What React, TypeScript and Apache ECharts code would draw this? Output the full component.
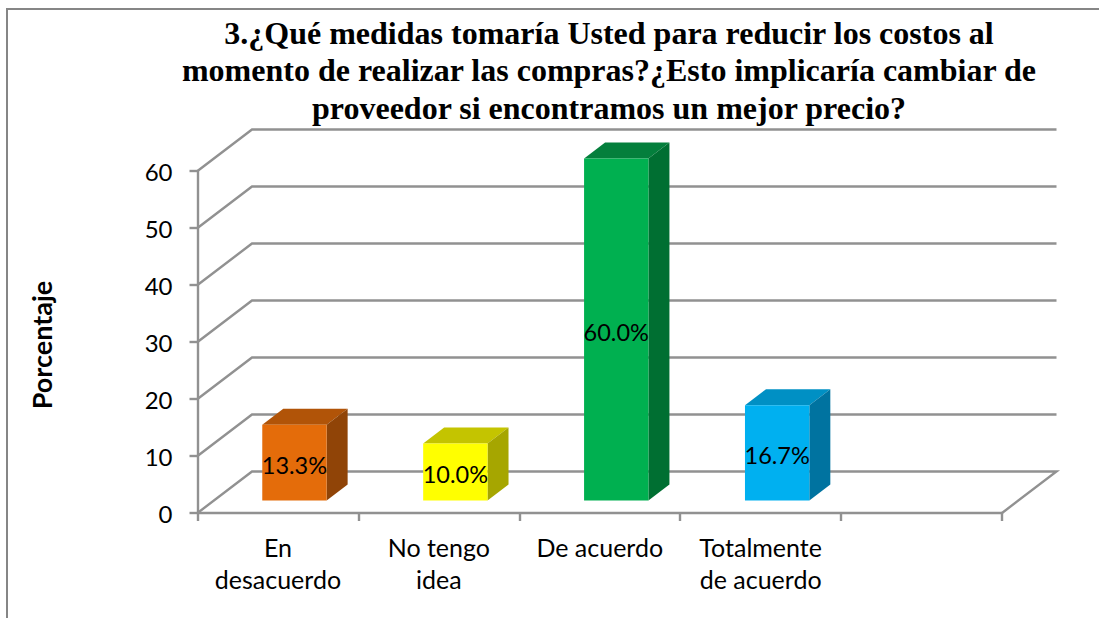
import React, { useEffect, useRef } from "react";
import * as echarts from "echarts";

const titleText =
  "3.¿Qué medidas tomaría Usted para reducir los costos al\nmomento de realizar las compras?¿Esto implicaría cambiar de\nproveedor si encontramos un mejor precio?";
const axisTitle = "Porcentaje";
const categories = ["En\ndesacuerdo", "No tengo\nidea", "De acuerdo", "Totalmente\nde acuerdo", ""];
const values = [13.3, 10.0, 60.0, 16.7];
const valueLabels = ["13.3%", "10.0%", "60.0%", "16.7%"];
const gridValues = [0, 10, 20, 30, 40, 50, 60];
const frontColors = ["#E46C0A", "#FFFF00", "#00B050", "#00B0F0"];
const topColors = ["#B15408", "#C4C400", "#047F3C", "#0090C4"];
const sideColors = ["#904407", "#A6A600", "#006F32", "#0073A0"];

const GREY = "#919191";
const SANS = "Lato, 'Open Sans', sans-serif";
const WALL_DX = 54.5;
const WALL_DY = -41.5;
const BAR_SHIFT_X = 16.5;
const BAR_SHIFT_Y = -12.5;
const BAR_DEPTH_X = 21;
const BAR_DEPTH_Y = -16;

export default function App() {
  const ref = useRef<HTMLDivElement>(null);
  useEffect(() => {
    const chart = echarts.init(ref.current!, null, { renderer: "svg" });
    chart.setOption({
      animation: false,
      backgroundColor: "#fff",
      title: {
        text: titleText,
        left: 604,
        top: 9,
        textAlign: "center",
        textStyle: {
          fontFamily: "'Liberation Serif', serif",
          fontWeight: "bold",
          fontSize: 32,
          lineHeight: 37.5,
          color: "#000",
        },
      },
      graphic: [
        {
          type: "polyline",
          shape: { points: [[7, 618], [7, 9], [1099, 9]] },
          style: { stroke: "#868686", lineWidth: 2, fill: "none" },
          silent: true,
        },
        {
          type: "text",
          x: 41,
          y: 345,
          rotation: Math.PI / 2,
          style: {
            text: axisTitle,
            fontFamily: SANS,
            fontWeight: "bold",
            fontSize: 27,
            fill: "#000",
            textAlign: "center",
            textVerticalAlign: "middle",
          },
          silent: true,
        },
      ],
      grid: { left: 197.5, top: 171, width: 804.5, height: 342 },
      xAxis: {
        type: "category",
        data: categories,
        boundaryGap: true,
        axisLine: { show: true, lineStyle: { color: GREY, width: 2.4 } },
        axisTick: { show: true, length: 8, alignWithLabel: false, lineStyle: { color: GREY, width: 2.4 } },
        axisLabel: {
          interval: 0,
          margin: 18,
          fontFamily: SANS,
          fontSize: 25,
          lineHeight: 32,
          color: "#000",
        },
      },
      yAxis: {
        type: "value",
        min: 0,
        max: 60,
        interval: 10,
        splitLine: { show: false },
        axisLine: { show: true, lineStyle: { color: GREY, width: 2.4 } },
        axisTick: { show: true, length: 8, lineStyle: { color: GREY, width: 2.4 } },
        axisLabel: { margin: 25, fontFamily: SANS, fontSize: 24, color: "#000", padding: [3, 0, 0, 0] },
      },
      series: [
        {
          type: "custom",
          silent: true,
          z: 1,
          data: gridValues.map((v) => [0, v]),
          renderItem: (params: any, api: any) => {
            const cs = params.coordSys;
            const y = api.coord([0, api.value(1)])[1];
            const left = cs.x;
            const right = cs.x + cs.width;
            const pts: number[][] = [
              [left, y],
              [left + WALL_DX, y + WALL_DY],
              [right + WALL_DX, y + WALL_DY],
            ];
            if (api.value(1) === 0) pts.push([right, y]);
            return {
              type: "polyline",
              shape: { points: pts },
              style: { stroke: GREY, lineWidth: 2.4, fill: "none" },
            };
          },
        },
        {
          type: "custom",
          silent: true,
          z: 3,
          data: values.map((v, i) => [i, v]),
          renderItem: (_params: any, api: any) => {
            const i = api.value(0);
            const top = api.coord([i, api.value(1)]);
            const base = api.coord([i, 0]);
            const w = api.size([1, 0])[0] * 0.4;
            const x0 = top[0] - w / 2 + BAR_SHIFT_X;
            const x1 = x0 + w;
            const y0 = top[1] + BAR_SHIFT_Y;
            const y1 = base[1] + BAR_SHIFT_Y;
            const dx = BAR_DEPTH_X;
            const dy = BAR_DEPTH_Y;
            return {
              type: "group",
              children: [
                {
                  type: "polygon",
                  shape: { points: [[x0, y0], [x1, y0], [x1 + dx, y0 + dy], [x0 + dx, y0 + dy]] },
                  style: { fill: topColors[i] },
                },
                {
                  type: "polygon",
                  shape: { points: [[x1, y0], [x1 + dx, y0 + dy], [x1 + dx, y1 + dy], [x1, y1]] },
                  style: { fill: sideColors[i] },
                },
                {
                  type: "rect",
                  shape: { x: x0, y: y0, width: w, height: y1 - y0 },
                  style: { fill: frontColors[i] },
                },
                {
                  type: "text",
                  x: (x0 + x1) / 2,
                  y: (y0 + y1) / 2 + 2,
                  style: {
                    text: valueLabels[i],
                    fontFamily: SANS,
                    fontSize: 23.5,
                    fill: "#000",
                    textAlign: "center",
                    textVerticalAlign: "middle",
                  },
                },
              ],
            };
          },
        },
      ],
    });
    return () => chart.dispose();
  }, []);
  return (
    <div
      ref={ref}
      style={{ position: "absolute", left: 0, top: 0, width: 1099, height: 618 }}
    />
  );
}
